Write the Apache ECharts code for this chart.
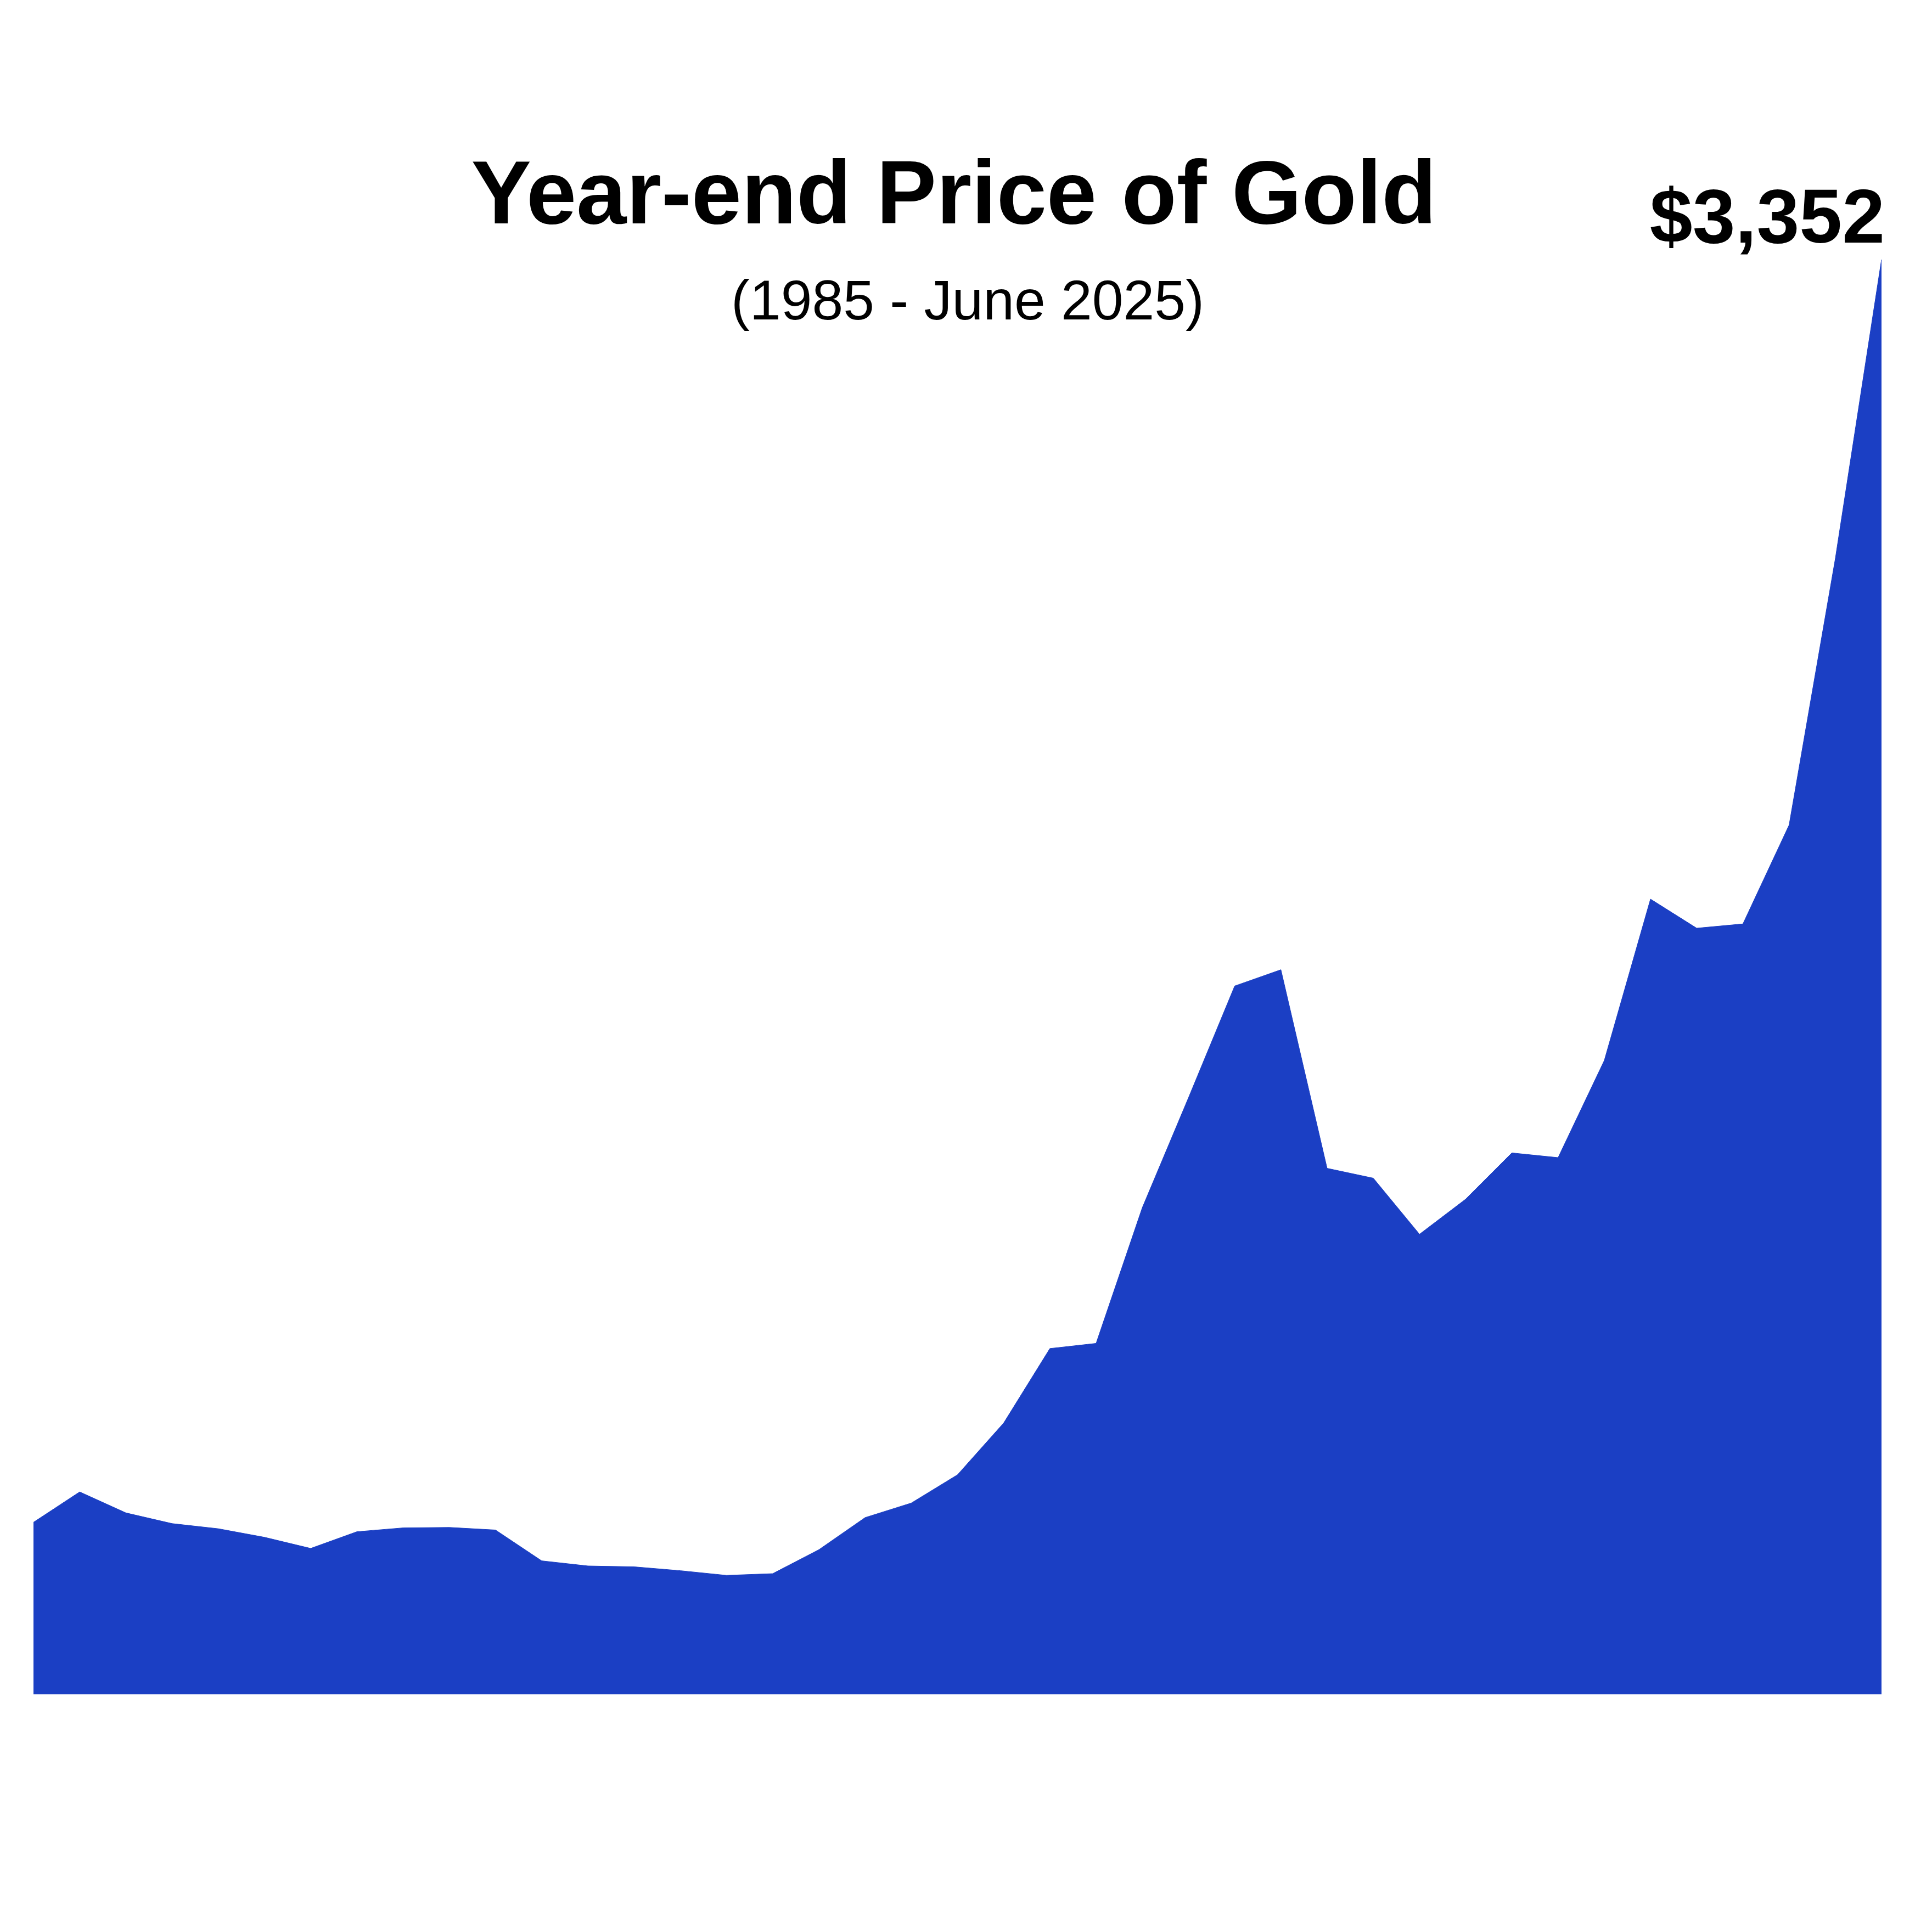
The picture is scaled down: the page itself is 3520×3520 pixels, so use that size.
<!DOCTYPE html>
<html>
<head>
<meta charset="utf-8">
<title>Year-end Price of Gold</title>
<script src="https://cdn.jsdelivr.net/npm/echarts@6/dist/echarts.min.js"></script>
<style>
  html, body { margin: 0; padding: 0; background: #fff; }
  #chart { width: 3520px; height: 3520px; }
</style>
</head>
<body>
<div id="chart"></div>
<script>
// year-end gold price, last point is June 2025
const years = [
  '1985', '1986', '1987', '1988', '1989', '1990', '1991', '1992', '1993', '1994',
  '1995', '1996', '1997', '1998', '1999', '2000', '2001', '2002', '2003', '2004',
  '2005', '2006', '2007', '2008', '2009', '2010', '2011', '2012', '2013', '2014',
  '2015', '2016', '2017', '2018', '2019', '2020', '2021', '2022', '2023', '2024',
  'Jun 2025'
]
const prices = [
  402, 473, 424, 399, 387, 367, 341, 380, 389, 390,
  384, 312, 300, 298, 289, 278, 282, 338, 413, 447,
  513, 634, 808, 820, 1137, 1394, 1655, 1693, 1229, 1206,
  1075, 1157, 1265, 1254, 1481, 1858, 1790, 1800, 2031, 2653,
  3352
]
const titleText = 'Year-end Price of Gold'
const subtitleText = '(1985 - June 2025)'

const fill = '#1b3fc4'
const font = '"Liberation Sans", Arial, Helvetica, sans-serif'

const last = prices.length - 1
const seriesData = prices.map((v, i) => {
  if (i !== last) return v
  // only the latest price gets a label
  return {
    value: v,
    label: {
      show: true,
      position: 'top',
      align: 'right',
      distance: 0,
      offset: [6, 0],
      formatter: p => '$' + p.value.toLocaleString('en-US'),
      fontFamily: font,
      fontSize: 140,
      fontWeight: 'bold',
      color: '#000'
    }
  }
})

const chart = echarts.init(document.getElementById('chart'), null, { renderer: 'canvas' })
chart.setOption({
  animation: false,
  backgroundColor: '#ffffff',
  title: [
    {
      text: titleText,
      left: 1738,
      textAlign: 'center',
      top: 280,
      padding: 0,
      textStyle: { fontFamily: font, fontSize: 164, fontWeight: 'bold', color: '#000' }
    },
    {
      text: subtitleText,
      left: 1763,
      textAlign: 'center',
      top: 503,
      padding: 0,
      textStyle: { fontFamily: font, fontSize: 102, fontWeight: 'normal', color: '#000' }
    }
  ],
  grid: { left: 61, right: 92, top: 473, bottom: 433 },
  xAxis: {
    type: 'category',
    data: years,
    boundaryGap: false,
    show: false
  },
  yAxis: {
    type: 'value',
    min: 0,
    max: Math.max(...prices),
    show: false
  },
  series: [{
    type: 'line',
    data: seriesData,
    symbol: 'circle',
    symbolSize: 0.1,
    showSymbol: true,
    showAllSymbol: true,
    lineStyle: { color: fill, width: 1 },
    areaStyle: { color: fill, opacity: 1 },
    itemStyle: { color: fill }
  }]
})
</script>
</body>
</html>
